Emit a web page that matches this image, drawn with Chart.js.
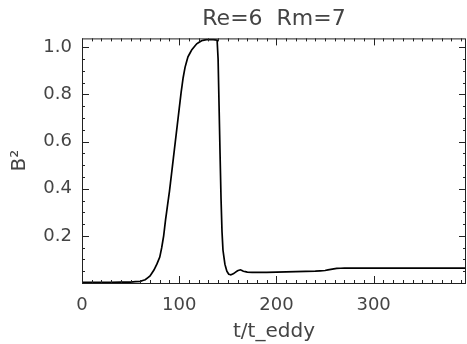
<!DOCTYPE html>
<html>
<head>
<meta charset="utf-8">
<script src="https://cdn.jsdelivr.net/npm/chart.js@4/dist/chart.umd.min.js"></script>
<style>
  html, body { margin: 0; padding: 0; background: #fff; }
  #wrap { width: 467px; height: 344px; }
</style>
</head>
<body>
<div id="wrap"><canvas id="c" width="467" height="344"></canvas></div>
<script>
// --- data ---
const tValues = [0, 30, 50, 60, 65, 70, 74, 77, 80, 82, 84, 86, 88, 90, 92, 94, 96, 98, 100,
  102, 104, 106, 109, 113, 118, 123, 128, 135, 139, 140, 141, 142, 143, 144, 145, 147, 149,
  151, 153, 156, 160, 163, 166, 170, 180, 200, 220, 240, 250, 256, 262, 270, 395];
const b2Values = [0.003, 0.003, 0.004, 0.007, 0.014, 0.03, 0.055, 0.08, 0.11, 0.15, 0.2, 0.27,
  0.33, 0.39, 0.46, 0.53, 0.6, 0.67, 0.74, 0.81, 0.87, 0.915, 0.96, 0.99, 1.015, 1.028, 1.033,
  1.033, 1.03, 0.95, 0.75, 0.55, 0.36, 0.22, 0.14, 0.08, 0.05, 0.037, 0.035, 0.04, 0.052, 0.056,
  0.05, 0.046, 0.045, 0.046, 0.048, 0.05, 0.053, 0.058, 0.062, 0.063, 0.063];

const xTicks = [0, 100, 200, 300];
const yTicks = [0.2, 0.4, 0.6, 0.8, 1.0];
const xRange = [0, 395];
const yRange = [0, 1.038];
const titleText = 'Re=6  Rm=7';
const xTitle = 't/t_eddy';
const yTitle = 'B²';

const points = tValues.map((t, i) => ({ x: t, y: b2Values[i] }));

// IDL-style frame: box on all four sides, ticks pointing inwards
const framePlugin = {
  id: 'frame',
  afterDraw(chart) {
    const { ctx, chartArea: a, scales } = chart;
    const xs = scales.x, ys = scales.y;
    ctx.save();
    ctx.strokeStyle = '#222';
    ctx.lineWidth = 1;
    ctx.strokeRect(a.left + 0.5, a.top + 0.5, a.right - a.left - 1, a.bottom - a.top);
    ctx.beginPath();
    for (let v = xRange[0]; v <= xRange[1]; v += 10) {
      const px = Math.round(xs.getPixelForValue(v)) + 0.5;
      const len = v % 100 === 0 ? 7 : 3;
      ctx.moveTo(px, a.bottom); ctx.lineTo(px, a.bottom - len);
      ctx.moveTo(px, a.top); ctx.lineTo(px, a.top + len);
    }
    for (let k = 1; k * 0.05 <= yRange[1]; k++) {
      const v = k * 0.05;
      const py = Math.round(ys.getPixelForValue(v)) + 0.5;
      const len = k % 4 === 0 ? 7 : 3;
      ctx.moveTo(a.left, py); ctx.lineTo(a.left + len, py);
      ctx.moveTo(a.right, py); ctx.lineTo(a.right - len, py);
    }
    ctx.stroke();
    ctx.restore();
  }
};

new Chart(document.getElementById('c'), {
  type: 'line',
  data: {
    datasets: [{
      data: points,
      borderColor: '#000',
      borderWidth: 1.7,
      pointRadius: 0,
      tension: 0.0001, // avoids the pixel-column fast path that left a gap on the drop
      fill: false
    }]
  },
  options: {
    responsive: false,
    animation: false,
    layout: { padding: { left: 0, right: 1, top: 0, bottom: 0 } },
    plugins: {
      legend: { display: false },
      tooltip: { enabled: false },
      title: {
        display: true,
        text: titleText,
        fullSize: false,
        color: '#444',
        font: { family: 'DejaVu Sans', size: 22, weight: 'normal' },
        padding: { top: 6, bottom: 6 }
      }
    },
    scales: {
      x: {
        type: 'linear',
        min: xRange[0], max: xRange[1],
        afterBuildTicks: s => { s.ticks = xTicks.map(v => ({ value: v })); },
        afterFit: s => { s.height = 61; },
        grid: { display: false, drawTicks: false },
        border: { display: false },
        ticks: {
          padding: 12,
          maxRotation: 0,
          color: '#444',
          font: { family: 'DejaVu Sans', size: 18 },
          callback: v => String(v)
        },
        title: {
          display: true,
          text: xTitle,
          color: '#444',
          font: { family: 'DejaVu Sans', size: 20 },
          padding: { top: 0, bottom: 0 }
        }
      },
      y: {
        type: 'linear',
        min: yRange[0], max: yRange[1],
        afterBuildTicks: s => { s.ticks = yTicks.map(v => ({ value: v })); },
        afterFit: s => { s.width = 82; },
        grid: { display: false, drawTicks: false },
        border: { display: false },
        ticks: {
          padding: 10,
          color: '#444',
          font: { family: 'DejaVu Sans', size: 18 },
          callback: v => v.toFixed(1)
        },
        title: {
          display: true,
          text: yTitle,
          color: '#444',
          font: { family: 'DejaVu Sans', size: 20 },
          padding: { top: 8, bottom: 0 }
        }
      }
    }
  },
  plugins: [framePlugin]
});
</script>
</body>
</html>
